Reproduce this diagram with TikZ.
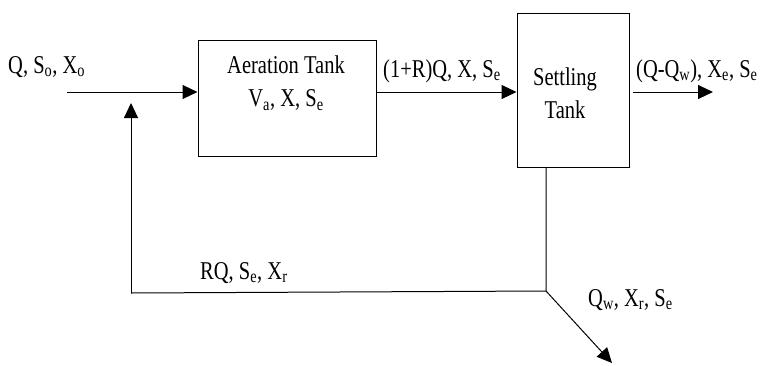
\documentclass[tikz,border=0pt]{standalone}
\usepackage{fontspec}
\setmainfont{Liberation Serif}
\usetikzlibrary{arrows.meta}
\newcommand{\tallt}[1]{\scalebox{1}[1.25]{#1}}
\begin{document}
\begin{tikzpicture}[x=1pt,y=-1pt,
  line/.style={line width=1pt,black},
  arr/.style={line, -{Triangle[length=15pt,width=14pt]}},
  tank/.style={draw,line width=1pt,inner sep=0pt},
  lbl/.style={font=\fontsize{20.5}{24}\selectfont,inner sep=0pt}]
\useasboundingbox (0,0) rectangle (761,365);
% tanks
\node[tank,minimum width=178pt,minimum height=116pt] (at) at (287,98) {};
\node[tank,minimum width=112pt,minimum height=154pt] (st) at (573,90) {};
% labels
\node[lbl] (attxt) at (286,84) {\tallt{\begin{tabular}{@{}c@{}}Aeration Tank\\[2pt]V\textsubscript{a}, X, S\textsubscript{e}\end{tabular}}};
\node[lbl] (sttxt) at (565,96) {\tallt{\begin{tabular}{@{}c@{}}Settling\\[2pt]Tank\end{tabular}}};
\node[lbl,anchor=base west] (lin) at (8,73) {\tallt{Q, S\textsubscript{o}, X\textsubscript{o}}};
\node[lbl,anchor=base west] (lmid) at (383,77) {\tallt{(1+R)Q, X, S\textsubscript{e}}};
\node[lbl,anchor=base west] (lout) at (636,77) {\tallt{(Q-Q\textsubscript{w}), X\textsubscript{e}, S\textsubscript{e}}};
\node[lbl,anchor=base west] (lrec) at (200,279) {\tallt{RQ, S\textsubscript{e}, X\textsubscript{r}}};
\node[lbl,anchor=base west] (lwas) at (588,306) {\tallt{Q\textsubscript{w}, X\textsubscript{r}, S\textsubscript{e}}};
% coordinates
\coordinate (in) at (67,92);
\coordinate (rtip) at (131,103);
\coordinate (rc) at (131,293);
\coordinate (outs) at (633,92);
\coordinate (oute) at (713,92);
\coordinate (sb) at (546,167);
\coordinate (junc) at (546,291);
\coordinate (waste) at (612,363);
% connectors
\draw[arr] (in) -- (in -| at.west);
\draw[arr] (at.east |- in) -- (st.west |- in);
\draw[arr] (outs) -- (oute);
\draw[line] (sb) -- (junc) -- (rc);
\draw[arr] (rc) -- (rtip);
\draw[arr] (junc) -- (waste);
\end{tikzpicture}
\end{document}
